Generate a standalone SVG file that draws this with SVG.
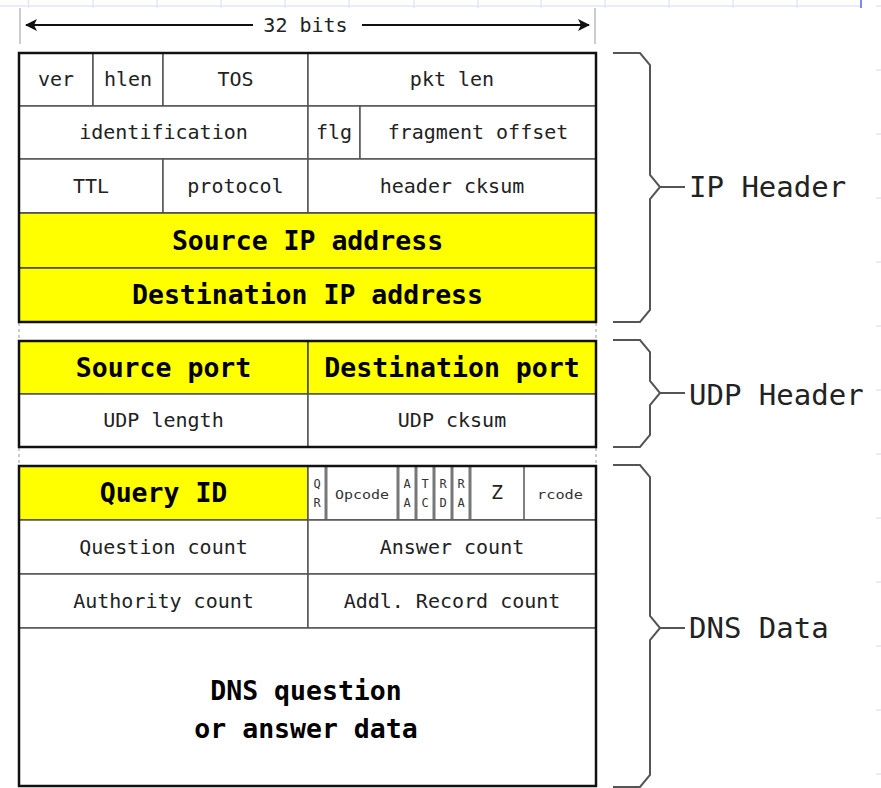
<svg xmlns="http://www.w3.org/2000/svg" width="881" height="788" viewBox="0 0 881 788">
<style>
.cell{fill:#fff;stroke:#555;stroke-width:1.5}
.hl{fill:#ffff00;stroke:#444;stroke-width:1.5}
.box{fill:none;stroke:#111;stroke-width:2.5}
.flag{fill:none;stroke:#777;stroke-width:3}
.t{font-family:"DejaVu Sans Mono","Liberation Mono",monospace;font-size:20px;fill:#222;text-anchor:middle}
.b{font-family:"DejaVu Sans Mono","Liberation Mono",monospace;font-size:26.5px;font-weight:bold;fill:#000;text-anchor:middle}
.s{font-family:"DejaVu Sans Mono","Liberation Mono",monospace;font-size:12px;fill:#333;text-anchor:middle}
.lab{font-family:"DejaVu Sans Mono","Liberation Mono",monospace;font-size:29px;fill:#222}
.br{fill:none;stroke:#555;stroke-width:2}
.grid{stroke:#e2e6f8;stroke-width:1.5}
.tick{stroke:#bbb;stroke-width:1.5}
</style>
<defs>
<marker id="ah" markerWidth="12" markerHeight="12" refX="11" refY="6" orient="auto-start-reverse" markerUnits="userSpaceOnUse">
<path d="M0,0 L12,6 L0,12 L3,6 Z" fill="#111"/>
</marker>
</defs>
<rect width="881" height="788" fill="#fff"/>
<g id="background-grid">
<line class="grid" x1="0" y1="6" x2="860" y2="6"/>
<path class="grid" d="M28.5,0V8M93,0V8M157,0V8M221,0V8M285,0V8M349,0V8M414,0V8M478,0V8M541,0V8M605,0V8M669,0V8M733,0V8M797,0V8"/>
<line x1="861" y1="0" x2="861" y2="8" stroke="#7a8cf0" stroke-width="2"/>
<path class="grid" d="M876,6H881M876,70H881M876,134H881M876,198H881M876,262H881M876,326H881M876,390H881M876,454H881M876,518H881M876,582H881M876,646H881M876,710H881M876,774H881"/>
</g>
<g id="ruler-ticks">
<line class="tick" x1="20" y1="8" x2="20" y2="44"/>
<line class="tick" x1="595" y1="8" x2="595" y2="44"/>
<line class="tick" x1="19" y1="323" x2="19" y2="340" stroke-dasharray="3,3"/>
<line class="tick" x1="596" y1="323" x2="596" y2="340" stroke-dasharray="3,3"/>
<line class="tick" x1="19" y1="448" x2="19" y2="465" stroke-dasharray="3,3"/>
<line class="tick" x1="596" y1="448" x2="596" y2="465" stroke-dasharray="3,3"/>
</g>
<g id="ip-header">
<g id="ver"><rect class="cell" x="19" y="53" width="74" height="53"/><text class="t" x="56" y="86">ver</text></g>
<g id="hlen"><rect class="cell" x="93" y="53" width="70" height="53"/><text class="t" x="128" y="86">hlen</text></g>
<g id="tos"><rect class="cell" x="163" y="53" width="145" height="53"/><text class="t" x="235.5" y="86">TOS</text></g>
<g id="pktlen"><rect class="cell" x="308" y="53" width="288" height="53"/><text class="t" x="452" y="86">pkt len</text></g>
<g id="identification"><rect class="cell" x="19" y="106" width="289" height="53"/><text class="t" x="163.5" y="139">identification</text></g>
<g id="flg"><rect class="cell" x="308" y="106" width="52" height="53"/><text class="t" x="334" y="139">flg</text></g>
<g id="fragoffset"><rect class="cell" x="360" y="106" width="236" height="53"/><text class="t" x="478" y="139">fragment offset</text></g>
<g id="ttl"><rect class="cell" x="19" y="159" width="144" height="54"/><text class="t" x="91" y="193">TTL</text></g>
<g id="protocol"><rect class="cell" x="163" y="159" width="145" height="54"/><text class="t" x="235.5" y="193">protocol</text></g>
<g id="hdrcksum"><rect class="cell" x="308" y="159" width="288" height="54"/><text class="t" x="452" y="193">header cksum</text></g>
<g id="srcip"><rect class="hl" x="19" y="213" width="577" height="55"/><text class="b" x="307.5" y="250">Source IP address</text></g>
<g id="dstip"><rect class="hl" x="19" y="268" width="577" height="54"/><text class="b" x="307.5" y="304">Destination IP address</text></g>
<rect class="box" x="19" y="53" width="577" height="269"/>
</g>
<g id="udp-header">
<g id="srcport"><rect class="hl" x="19" y="341" width="289" height="53"/><text class="b" x="163.5" y="377">Source port</text></g>
<g id="dstport"><rect class="hl" x="308" y="341" width="288" height="53"/><text class="b" x="452" y="377">Destination port</text></g>
<g id="udplen"><rect class="cell" x="19" y="394" width="289" height="53"/><text class="t" x="163.5" y="427">UDP length</text></g>
<g id="udpcksum"><rect class="cell" x="308" y="394" width="288" height="53"/><text class="t" x="452" y="427">UDP cksum</text></g>
<rect class="box" x="19" y="341" width="577" height="106"/>
</g>
<g id="dns-data">
<g id="queryid"><rect class="hl" x="19" y="466" width="289" height="54"/><text class="b" x="163.5" y="502">Query ID</text></g>
<g id="flags">
<rect class="cell" x="308" y="466" width="288" height="54"/>
<path class="flag" d="M326,466V520M398,466V520M416,466V520M434,466V520M452,466V520M470,466V520"/>
<line x1="524" y1="466" x2="524" y2="520" stroke="#555" stroke-width="1.5"/>
<text class="s" x="317" y="488">Q</text><text class="s" x="317" y="507">R</text>
<text class="s" x="362" y="499" font-size="15" textLength="54" lengthAdjust="spacingAndGlyphs">Opcode</text>
<text class="s" x="407" y="488">A</text><text class="s" x="407" y="507">A</text>
<text class="s" x="425" y="488">T</text><text class="s" x="425" y="507">C</text>
<text class="s" x="443" y="488">R</text><text class="s" x="443" y="507">D</text>
<text class="s" x="461" y="488">R</text><text class="s" x="461" y="507">A</text>
<text class="t" x="497" y="499" font-size="19">Z</text>
<text class="s" x="560" y="499" font-size="15" textLength="46" lengthAdjust="spacingAndGlyphs">rcode</text>
</g>
<g id="qcount"><rect class="cell" x="19" y="520" width="289" height="54"/><text class="t" x="163.5" y="554">Question count</text></g>
<g id="acount"><rect class="cell" x="308" y="520" width="288" height="54"/><text class="t" x="452" y="554">Answer count</text></g>
<g id="authcount"><rect class="cell" x="19" y="574" width="289" height="54"/><text class="t" x="163.5" y="608">Authority count</text></g>
<g id="addlcount"><rect class="cell" x="308" y="574" width="288" height="54"/><text class="t" x="452" y="608">Addl. Record count</text></g>
<g id="dnsbody"><rect class="cell" x="19" y="628" width="577" height="158"/>
<text class="b" x="306" y="700">DNS question</text>
<text class="b" x="306" y="738">or answer data</text></g>
<rect class="box" x="19" y="466" width="577" height="320"/>
</g>
<g id="connectors">
<line x1="26" y1="25" x2="253" y2="25" stroke="#111" stroke-width="2" marker-start="url(#ah)"/>
<line x1="362" y1="25" x2="589" y2="25" stroke="#111" stroke-width="2" marker-end="url(#ah)"/>
<text class="t" x="305.5" y="32">32 bits</text>
<path class="br" d="M613,53H640L650,65V175L660,187L650,199V310L640,322H613M660,187H685"/>
<path class="br" d="M613,340H640L650,352V381L660,393L650,405V435L640,447H613M660,393H685"/>
<path class="br" d="M613,465H640L650,477V616L660,628L650,640V775L640,787H613M660,628H685"/>
</g>
<g id="labels">
<text class="lab" x="689" y="197">IP Header</text>
<text class="lab" x="689" y="405">UDP Header</text>
<text class="lab" x="689" y="638">DNS Data</text>
</g>
</svg>
